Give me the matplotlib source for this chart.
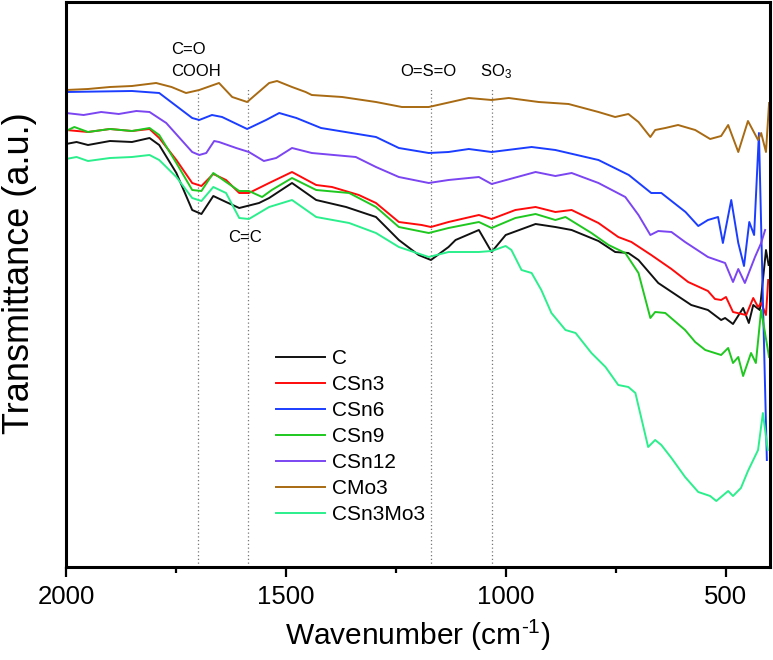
import matplotlib
matplotlib.use("Agg")
import matplotlib.pyplot as plt
from matplotlib.ticker import MultipleLocator

plt.rcParams['font.family'] = ['Liberation Sans', 'DejaVu Sans']
plt.rcParams['mathtext.fontset'] = 'custom'
plt.rcParams['mathtext.rm'] = 'Liberation Sans'
plt.rcParams['mathtext.default'] = 'regular'

# ---------------- data (wavenumber cm-1, transmittance a.u.) ----------------
wn_C = [2000, 1976, 1950, 1900, 1850, 1810, 1788, 1749, 1713, 1692, 1665, 1636, 1606, 1561,
        1538, 1486, 1431, 1363, 1295, 1243, 1198, 1170, 1130, 1114, 1061, 1032, 1000, 932,
        887, 850, 789, 751, 721, 698, 653, 578, 540, 510, 501, 483, 460, 447, 437, 422, 408, 402]
T_C = [423, 425, 422, 426, 425, 429, 422, 394, 357, 353, 371, 365, 359, 364,
       369, 384, 367, 360, 350, 327, 312, 307, 320, 327, 337, 315, 332, 343,
       340, 337, 326, 315, 314, 307, 284, 262, 257, 247, 249, 243, 259, 244, 262, 257, 317, 302]

wn_CSn3 = [2000, 1950, 1900, 1850, 1810, 1788, 1749, 1713, 1692, 1665, 1636, 1606, 1584, 1538,
           1486, 1431, 1395, 1334, 1295, 1243, 1191, 1170, 1130, 1061, 1032, 978, 932, 887,
           850, 789, 744, 714, 669, 623, 585, 540, 524, 510, 499, 483, 453, 437, 426, 419, 408, 403]
T_CSn3 = [437, 435, 438, 436, 438, 429, 407, 384, 381, 393, 387, 374, 374, 384,
          395, 382, 380, 372, 364, 345, 342, 340, 345, 352, 348, 357, 360, 355,
          357, 344, 330, 325, 312, 298, 285, 276, 268, 267, 270, 255, 252, 269, 260, 264, 252, 287]

wn_CSn6 = [2000, 1850, 1788, 1713, 1697, 1668, 1645, 1588, 1545, 1515, 1476, 1420, 1295, 1243,
           1175, 1130, 1084, 1032, 941, 887, 789, 720, 669, 646, 591, 562, 540, 517, 506, 487,
           471, 458, 446, 435, 424, 415, 406]
T_CSn6 = [475, 476, 474, 449, 447, 452, 450, 438, 447, 454, 449, 439, 430, 419,
          414, 415, 418, 415, 420, 417, 407, 392, 374, 374, 355, 341, 347, 350, 324, 367,
          324, 301, 345, 332, 434, 267, 107]

wn_CSn9 = [2000, 1981, 1950, 1900, 1850, 1810, 1788, 1749, 1713, 1692, 1665, 1636, 1606, 1584,
           1554, 1532, 1486, 1431, 1356, 1295, 1243, 1175, 1130, 1061, 1032, 978, 932, 887,
           864, 805, 766, 728, 698, 671, 660, 637, 592, 569, 546, 510, 494, 483, 471, 460,
           442, 431, 419, 401]
T_CSn9 = [436, 440, 435, 438, 436, 439, 432, 404, 377, 376, 394, 385, 376, 376,
          370, 377, 389, 377, 374, 360, 340, 334, 339, 345, 339, 349, 353, 347,
          350, 334, 322, 314, 294, 249, 255, 254, 237, 225, 217, 212, 219, 204, 210, 191,
          214, 204, 257, 210]

wn_CSn12 = [2000, 1960, 1920, 1880, 1840, 1810, 1772, 1713, 1697, 1681, 1663, 1652, 1613, 1584,
            1550, 1522, 1486, 1441, 1341, 1295, 1243, 1175, 1130, 1061, 1032, 932, 887, 850,
            789, 728, 698, 671, 653, 623, 592, 540, 501, 483, 471, 456, 433, 419, 410]
T_CSn12 = [454, 452, 455, 453, 456, 455, 444, 415, 412, 414, 426, 425, 419, 415,
           406, 409, 419, 414, 410, 400, 390, 384, 387, 390, 383, 395, 391, 394,
           384, 370, 352, 332, 336, 335, 325, 310, 304, 285, 298, 284, 310, 324, 337]

wn_CMo3 = [2000, 1950, 1900, 1850, 1795, 1760, 1727, 1697, 1652, 1622, 1588, 1538, 1520, 1486,
           1455, 1441, 1372, 1295, 1236, 1175, 1084, 1032, 993, 925, 857, 789, 751, 721, 698,
           671, 660, 637, 608, 569, 535, 510, 494, 471, 449, 426, 419, 408, 401]
T_CMo3 = [477, 478, 480, 481, 484, 480, 474, 477, 484, 470, 465, 484, 486, 480,
          475, 472, 470, 465, 460, 460, 469, 467, 469, 465, 463, 455, 450, 453, 445,
          430, 437, 439, 442, 437, 428, 431, 442, 415, 446, 427, 434, 415, 464]

wn_CSn3Mo3 = [2000, 1976, 1950, 1900, 1850, 1810, 1788, 1749, 1713, 1692, 1665, 1636, 1606, 1584,
              1561, 1538, 1486, 1431, 1356, 1295, 1243, 1175, 1130, 1061, 1032, 1000, 987, 964,
              941, 919, 896, 864, 841, 805, 773, 744, 721, 705, 676, 660, 646, 623, 592, 562,
              535, 521, 494, 483, 465, 449, 426, 415, 404]
T_CSn3Mo3 = [408, 410, 406, 409, 410, 412, 407, 390, 369, 366, 380, 374, 349, 348,
             354, 360, 367, 350, 344, 334, 320, 310, 315, 315, 316, 321, 317, 297,
             294, 277, 254, 237, 234, 214, 200, 182, 180, 174, 120, 127, 122, 109, 90, 75,
             71, 66, 76, 71, 79, 96, 117, 154, 117]

labels = ['C', 'CSn3', 'CSn6', 'CSn9', 'CSn12', 'CMo3', 'CSn3Mo3']
colors = ['#111111', '#ff0a0a', '#1b3dff', '#1fc81f', '#7b45f2', '#a86a12', '#2bef8c']
series = [(wn_C, T_C), (wn_CSn3, T_CSn3), (wn_CSn6, T_CSn6), (wn_CSn9, T_CSn9),
          (wn_CSn12, T_CSn12), (wn_CMo3, T_CMo3), (wn_CSn3Mo3, T_CSn3Mo3)]

band_pos = [1700, 1585, 1170, 1030]

# ---------------- figure ----------------
fig = plt.figure(figsize=(7.73, 6.60), dpi=100)
ax = fig.add_axes([66/773, 1 - 567/660, (769.5 - 66)/773, (567 - 2)/660])

for (x, y), lab, c in zip(series, labels, colors):
    ax.plot(x, y, color=c, lw=1.4, label=lab)

for b in band_pos:
    ax.plot([b, b], [0, 480], color='#777777', lw=0.9, ls=(0, (1, 2)), zorder=0)

ax.set_xlim(2000, 400)
ax.set_ylim(0, 565)
ax.set_yticks([])
ax.xaxis.set_major_locator(MultipleLocator(500))
ax.xaxis.set_minor_locator(MultipleLocator(250))
ax.tick_params(axis='x', which='major', direction='out', length=7, width=1.6,
               pad=6, labelsize=18.5)
ax.tick_params(axis='x', which='minor', direction='out', length=4.5, width=1.6)
for s in ax.spines.values():
    s.set_linewidth(2.2)

ax.set_xlabel('Wavenumber (cm$^{\\text{-}1}$)', fontsize=21.5, labelpad=6)
ax.set_ylabel('Transmittance (a.u.)', fontsize=26)
ax.yaxis.set_label_coords(-0.041, 0.52)

# band annotations
ax.text(1760, 518, 'C=O', fontsize=12, ha='left', va='center')
ax.text(1760, 496, 'COOH', fontsize=12, ha='left', va='center')
ax.text(1593, 329, 'C=C', fontsize=12, ha='center', va='center')
ax.text(1175, 495, 'O=S=O', fontsize=12, ha='center', va='center')
ax.text(1023, 495, 'SO$_3$', fontsize=12, ha='center', va='center')

ax.legend(loc='upper left', bbox_to_anchor=(0.299, 0.386), frameon=False,
          fontsize=15, handlelength=2.35, handletextpad=0.3, labelspacing=0.34,
          borderpad=0, borderaxespad=0)

fig.savefig('out.png', dpi=100)
